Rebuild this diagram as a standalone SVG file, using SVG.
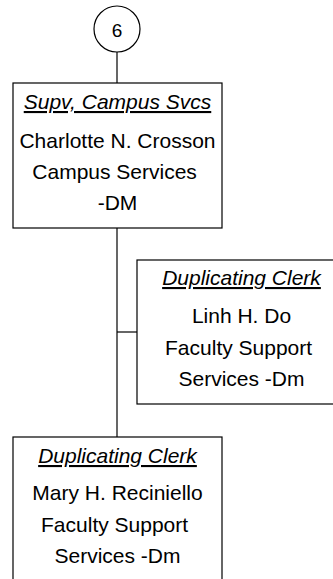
<svg xmlns="http://www.w3.org/2000/svg" width="333" height="579" viewBox="0 0 333 579">
<style>
.box{fill:#fff;stroke:#000;stroke-width:1.2}
.ln{stroke:#000;stroke-width:1.2;fill:none}
text{font-family:"Liberation Sans",Arial,sans-serif;font-size:21px;fill:#000;text-anchor:middle}
.t{font-style:italic;text-decoration:underline}
</style>
<rect width="333" height="579" fill="#fff"/>
<g id="connectors">
<line class="ln" x1="117" y1="52" x2="117" y2="83"/>
<line class="ln" x1="117" y1="228" x2="117" y2="437"/>
<line class="ln" x1="117" y1="332" x2="137" y2="332"/>
</g>
<g id="n6">
<circle cx="117" cy="29" r="23" class="box"/>
<text x="117" y="37" style="font-size:19px">6</text>
</g>
<g id="supv">
<rect class="box" x="13" y="83" width="209" height="145"/>
<text class="t" x="117.5" y="109">Supv, Campus Svcs</text>
<text x="117.5" y="148">Charlotte N. Crosson</text>
<text x="117.5" y="179" xml:space="preserve">Campus Services </text>
<text x="117.5" y="210">-DM</text>
</g>
<g id="linh">
<rect class="box" x="137" y="260" width="209" height="144"/>
<text class="t" x="241.5" y="285">Duplicating Clerk</text>
<text x="241.5" y="323">Linh H. Do</text>
<text x="241.5" y="355" xml:space="preserve">Faculty Support </text>
<text x="241.5" y="386">Services -Dm</text>
</g>
<g id="mary">
<rect class="box" x="13" y="437" width="209" height="145"/>
<text class="t" x="117.5" y="463">Duplicating Clerk</text>
<text x="117.5" y="500">Mary H. Reciniello</text>
<text x="117.5" y="532" xml:space="preserve">Faculty Support </text>
<text x="117.5" y="563">Services -Dm</text>
</g>
</svg>
